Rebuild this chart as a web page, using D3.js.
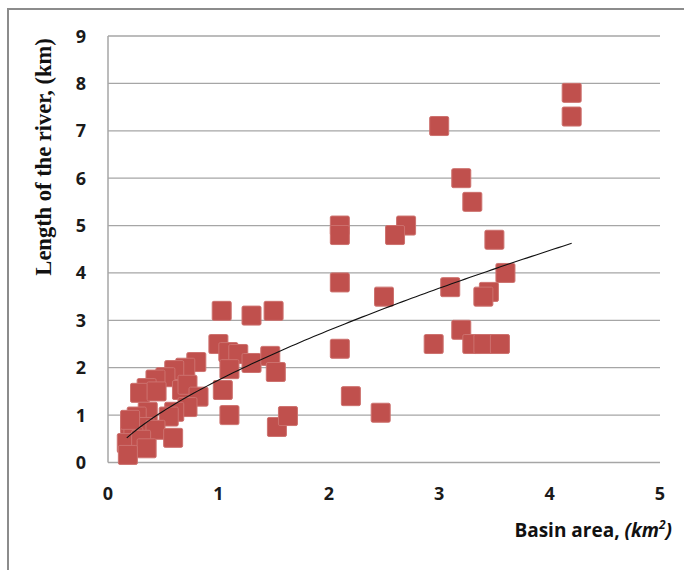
<!DOCTYPE html>
<html>
<head>
<meta charset="utf-8">
<script src="https://cdn.jsdelivr.net/npm/d3@7"></script>
<style>
  html, body { margin: 0; padding: 0; background: #fff; }
  svg { display: block; }
</style>
</head>
<body>
<svg id="chart" width="684" height="570"></svg>
<script>
// Basin area (km^2) of each river basin
const basinArea = [
  4.2, 4.2, 3.0, 3.2, 3.3, 2.1, 2.1, 2.7, 2.6, 3.5, 3.6, 2.1, 3.1, 3.45, 3.4, 2.5,
  3.2, 2.95, 3.3, 3.4, 3.55, 2.1, 2.2, 2.47,
  1.03, 1.3, 1.5, 1.0, 1.09, 1.18, 1.3, 1.47, 1.52, 1.1, 1.04, 1.1, 1.53, 1.63,
  0.8, 0.7, 0.6, 0.52, 0.43, 0.35, 0.29, 0.44, 0.67, 0.72, 0.82, 0.72, 0.6, 0.55,
  0.36, 0.26, 0.2, 0.33, 0.43, 0.59, 0.23, 0.17, 0.3, 0.35, 0.18, 0.2
];
// Length of the main river (km), same order as basinArea
const riverLength = [
  7.8, 7.3, 7.1, 6.0, 5.5, 5.0, 4.8, 5.0, 4.8, 4.7, 4.0, 3.8, 3.7, 3.6, 3.5, 3.5,
  2.8, 2.5, 2.5, 2.5, 2.5, 2.4, 1.4, 1.05,
  3.2, 3.1, 3.2, 2.5, 2.33, 2.29, 2.1, 2.25, 1.91, 1.97, 1.53, 1.0, 0.75, 0.98,
  2.12, 2.0, 1.95, 1.8, 1.75, 1.57, 1.47, 1.5, 1.53, 1.64, 1.39, 1.17, 1.07, 0.97,
  1.07, 0.97, 0.8, 0.75, 0.69, 0.52, 0.54, 0.41, 0.48, 0.3, 0.16, 0.9
];
const xTicks = [0, 1, 2, 3, 4, 5];
const yTicks = [0, 1, 2, 3, 4, 5, 6, 7, 8, 9];

const svg = d3.select("#chart");
const plot = { left: 108, right: 660, top: 36, bottom: 462.5 };

const x = d3.scaleLinear().domain([0, 5]).range([plot.left, plot.right]);
const y = d3.scaleLinear().domain([0, 9]).range([plot.bottom, plot.top]);

// outer frame of the chart area
svg.append("path")
  .attr("d", "M8,570 L8,9 L684,9")
  .attr("fill", "none").attr("stroke", "#8c8c8c").attr("stroke-width", 2);

// horizontal gridlines
svg.append("g").selectAll("line")
  .data(yTicks.filter(d => d > 0))
  .join("line")
  .attr("x1", plot.left).attr("x2", plot.right)
  .attr("y1", d => y(d)).attr("y2", d => y(d))
  .attr("stroke", "#a6a6a6").attr("stroke-width", 1.3);

// axis lines
svg.append("line")
  .attr("x1", plot.left).attr("x2", plot.right)
  .attr("y1", plot.bottom).attr("y2", plot.bottom)
  .attr("stroke", "#a6a6a6").attr("stroke-width", 1.5);
svg.append("line")
  .attr("x1", plot.left).attr("x2", plot.left)
  .attr("y1", plot.top).attr("y2", plot.bottom)
  .attr("stroke", "#a6a6a6").attr("stroke-width", 1.5);

// tick labels
const tickFont = "'Open Sans', Lato, sans-serif";
svg.append("g").selectAll("text")
  .data(xTicks).join("text")
  .attr("x", d => x(d)).attr("y", 500)
  .attr("text-anchor", "middle")
  .attr("font-family", tickFont).attr("font-weight", "bold").attr("font-size", 18)
  .attr("fill", "#1a1a1a")
  .text(d => d);
svg.append("g").selectAll("text")
  .data(yTicks).join("text")
  .attr("x", 86).attr("y", d => y(d) + 6.5)
  .attr("text-anchor", "end")
  .attr("font-family", tickFont).attr("font-weight", "bold").attr("font-size", 18)
  .attr("fill", "#1a1a1a")
  .text(d => d);

// data points
const pts = basinArea.map((a, i) => ({ a, l: riverLength[i] }));
const size = 19;
svg.append("g").selectAll("rect")
  .data(pts).join("rect")
  .attr("x", d => x(d.a) - size / 2)
  .attr("y", d => y(d.l) - size / 2)
  .attr("width", size).attr("height", size)
  .attr("rx", 1.5)
  .attr("fill", "#c0504d")
  .attr("stroke", "#cd716e").attr("stroke-width", 1);

// power trendline fitted by least squares on log-log values
const lx = pts.map(p => Math.log(p.a)), ly = pts.map(p => Math.log(p.l));
const mx = d3.mean(lx), my = d3.mean(ly);
const b = d3.sum(lx, (v, i) => (v - mx) * (ly[i] - my)) / d3.sum(lx, v => (v - mx) ** 2);
const a = Math.exp(my - b * mx);
const [xmin, xmax] = d3.extent(basinArea);
const curve = d3.range(0, 101).map(i => {
  const v = xmin + (xmax - xmin) * i / 100;
  return [x(v), y(a * Math.pow(v, b))];
});
svg.append("path")
  .attr("d", d3.line()(curve))
  .attr("fill", "none").attr("stroke", "#111").attr("stroke-width", 1.1);

// axis titles
svg.append("text")
  .attr("transform", "translate(51,157) rotate(-90)")
  .attr("text-anchor", "middle")
  .attr("font-family", "'Liberation Serif', 'Times New Roman', serif")
  .attr("font-weight", "bold").attr("font-size", 22.5)
  .attr("fill", "#111")
  .text("Length of the river,  (km)");

const xt = svg.append("text")
  .attr("x", 672).attr("y", 537)
  .attr("text-anchor", "end")
  .attr("font-family", tickFont).attr("font-weight", "bold").attr("font-size", 19)
  .attr("fill", "#111");
xt.append("tspan").text("Basin area, ");
xt.append("tspan").attr("font-style", "italic").text("(km");
xt.append("tspan").attr("font-style", "italic").attr("font-size", 12).attr("dy", -8).text("2");
xt.append("tspan").attr("font-style", "italic").attr("dy", 8).text(")");
</script>
</body>
</html>
